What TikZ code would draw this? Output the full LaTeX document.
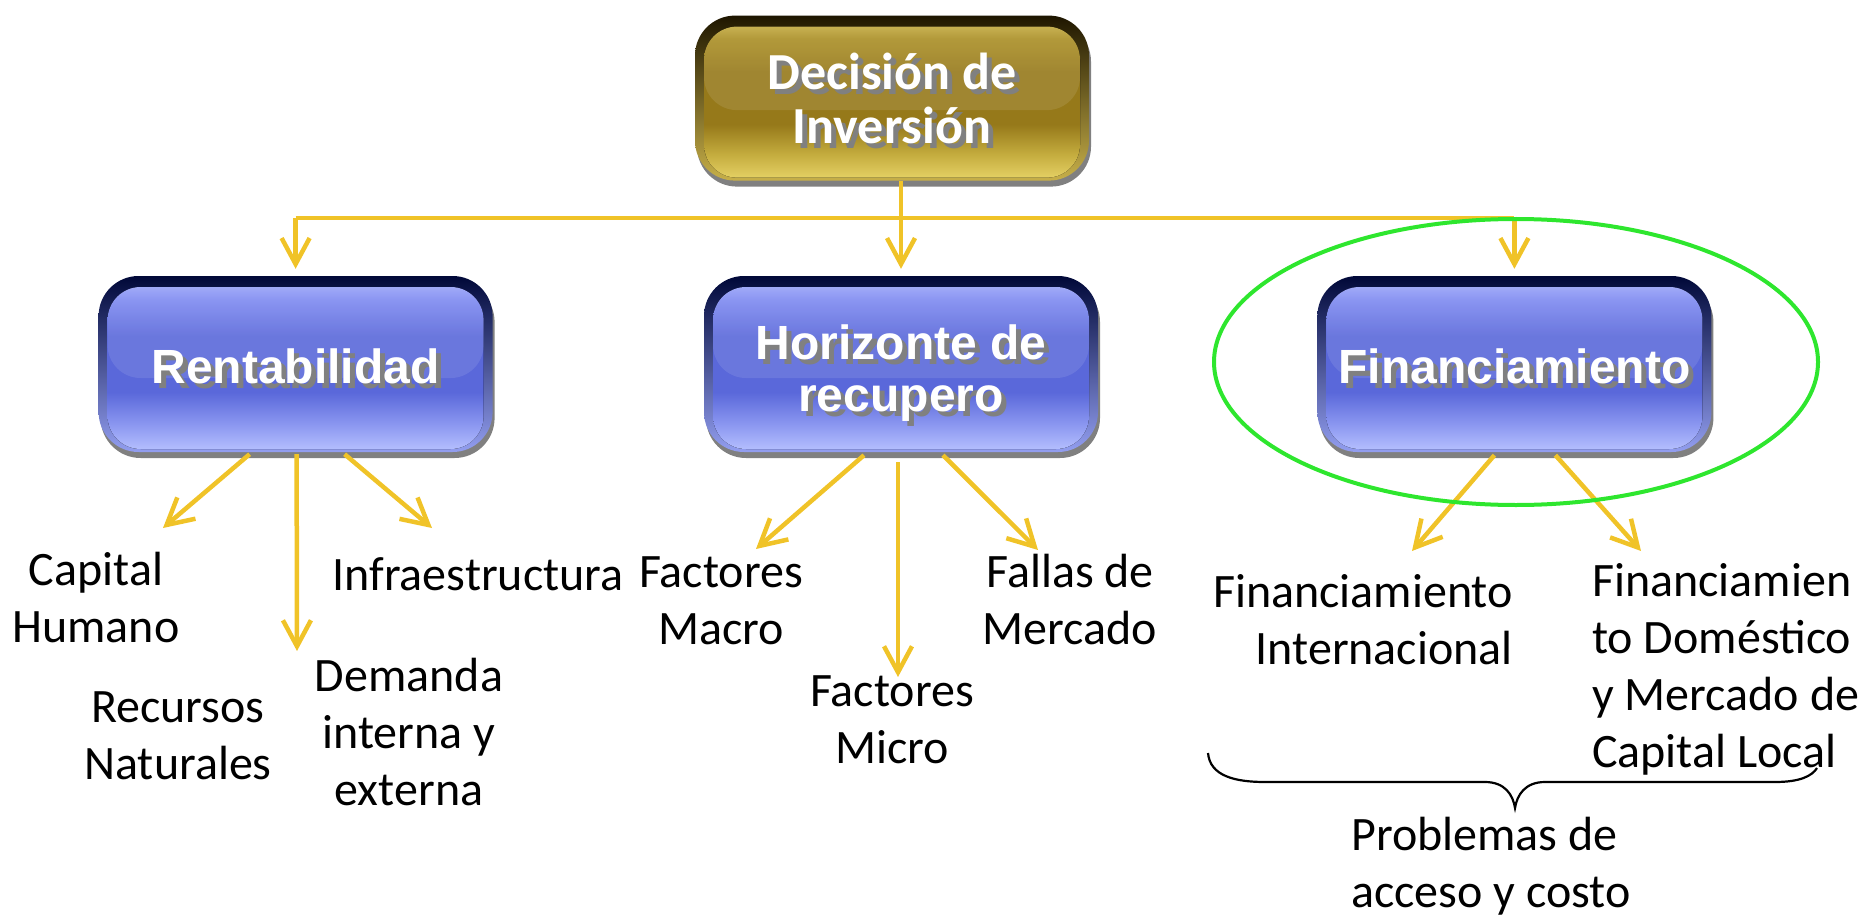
\documentclass[tikz,border=0pt]{standalone}
\usepackage{fontspec}
\setmainfont{Carlito}
\newfontfamily\boxfont{Liberation Sans}
\usetikzlibrary{arrows.meta,positioning,shadows}
\definecolor{linkyellow}{HTML}{F0C328}
\definecolor{ringgreen}{HTML}{2EE62E}
\definecolor{bluerim}{HTML}{000838}
\definecolor{bluetop}{HTML}{AAB4FF}
\definecolor{bluehi}{HTML}{7C88F0}
\definecolor{bluemid}{HTML}{5A68DA}
\definecolor{bluelo}{HTML}{8A96F0}
\definecolor{bluebot}{HTML}{B8C2FF}
\definecolor{goldrim}{HTML}{1E1600}
\definecolor{goldtop}{HTML}{D6C056}
\definecolor{goldhi}{HTML}{AA8E24}
\definecolor{goldmid}{HTML}{96791A}
\definecolor{goldlo}{HTML}{C4AC3E}
\definecolor{goldbot}{HTML}{E8D468}
\pgfdeclareverticalshading{bluegloss}{100bp}{color(0bp)=(bluebot); color(25bp)=(bluebot); color(33bp)=(bluelo);
    color(42bp)=(bluemid); color(58bp)=(bluemid); color(68bp)=(bluehi); color(75bp)=(bluetop); color(100bp)=(bluetop)}
\pgfdeclareverticalshading{goldgloss}{100bp}{color(0bp)=(goldbot); color(25bp)=(goldbot); color(33bp)=(goldlo);
    color(42bp)=(goldmid); color(58bp)=(goldmid); color(68bp)=(goldhi); color(75bp)=(goldtop); color(100bp)=(goldtop)}
\newcommand\shadowtext[2][-12pt]{\raisebox{#1}[\height][\depth]{\rlap{\kern5pt\raisebox{-5pt}{\color{black!50}\begin{tabular}{@{}c@{}}#2\end{tabular}}}\begin{tabular}{@{}c@{}}#2\end{tabular}}}

\begin{document}
\begin{tikzpicture}[x=1pt,y=-1pt,
    boxbase/.style={rectangle,rounded corners=40pt,minimum width=394pt,inner sep=0pt,text=white,
        drop shadow={shadow xshift=2pt,shadow yshift=-6pt,fill=black!50,opacity=1}},
    bluebox/.style={boxbase,minimum height=176pt,top color=bluerim,bottom color=bluebot!60!bluemid,
        font=\boxfont\bfseries\fontsize{48}{52}\selectfont,
        path picture={
            \fill[rounded corners=33pt,shading=bluegloss]
                ([shift={(9pt,-11pt)}]path picture bounding box.north west) rectangle ([shift={(-9pt,3pt)}]path picture bounding box.south east);
            \fill[white,opacity=.1,rounded corners=33pt]
                ([shift={(9pt,-11pt)}]path picture bounding box.north west) rectangle ([shift={(-9pt,-14pt)}]path picture bounding box.east);}},
    goldbox/.style={boxbase,minimum height=165pt,top color=goldrim,bottom color=goldbot!60!goldmid,
        font=\bfseries\fontsize{52}{54}\selectfont,
        path picture={
            \fill[rounded corners=33pt,shading=goldgloss]
                ([shift={(9pt,-11pt)}]path picture bounding box.north west) rectangle ([shift={(-9pt,3pt)}]path picture bounding box.south east);
            \fill[white,opacity=.1,rounded corners=33pt]
                ([shift={(9pt,-11pt)}]path picture bounding box.north west) rectangle ([shift={(-9pt,-12pt)}]path picture bounding box.east);}},
    leaf/.style={font=\fontsize{48}{57}\selectfont,align=center,inner sep=0pt},
    link/.style={draw=linkyellow,line width=4.5pt},
    >={Straight Barb[length=26pt,width=28pt]}]
    \useasboundingbox (0,0) rectangle (1862,917);
    \node(hor)[bluebox] at (901,364) {\shadowtext[-14pt]{Horizonte de\\recupero}};
    \node(rent)[bluebox,left=211pt of hor] {\shadowtext{Rentabilidad}};
    \node(fin)[bluebox,right=219pt of hor] {\shadowtext{Financiamiento}};
    \node(dec)[goldbox,above=95pt of hor,xshift=-9pt] {\shadowtext[-10pt]{Decisión de\\Inversión}};
    \node(cap)[leaf,anchor=base] at (96,642) {Capital\\Humano};
    \node(rec)[leaf,anchor=base] at (178,779) {Recursos\\Naturales};
    \node(inf)[leaf,anchor=base] at (478,590) {Infraestructura};
    \node(dem)[leaf,anchor=base] at (409,805) {Demanda\\interna y\\externa};
    \node(mac)[leaf,anchor=base] at (721,644) {Factores\\Macro};
    \node(mic)[leaf,anchor=base] at (892,763) {Factores\\Micro};
    \node(fal)[leaf,anchor=base] at (1070,644) {Fallas de\\Mercado};
    \node(int)[leaf,anchor=base east,align=right] at (1513,664) {Financiamiento\\Internacional};
    \node(dom)[leaf,anchor=base west,align=left] at (1592,767) {Financiamien\\to Doméstico\\y Mercado de\\Capital Local};
    \node(acc)[leaf,anchor=base west,align=left] at (1351,907) {Problemas de\\acceso y costo};
    \coordinate(bus) at (0,218);
    \coordinate(capin) at (163,528);
    \coordinate(demin) at (297,651);
    \coordinate(infin) at (432,528);
    \coordinate(macin) at (756,549);
    \coordinate(micin) at (898,677);
    \coordinate(falin) at (1038,550);
    \coordinate(intin) at (1412,551);
    \coordinate(domin) at (1641,551);
    \draw[link] (rent.north |- bus) -- (fin.north |- bus);
    \draw[link,->] (dec.south -| hor) -- ([yshift=7pt]hor.north);
    \draw[link,->] (rent.north |- bus) -- ([yshift=7pt]rent.north);
    \draw[link,->] (fin.north |- bus) -- ([yshift=7pt]fin.north);
    \draw[link,->] ([xshift=-46pt,yshift=-2pt]rent.south) -- (capin);
    \draw[link,->] ([xshift=1pt,yshift=-2pt]rent.south) -- (demin);
    \draw[link,->] ([xshift=49pt,yshift=-2pt]rent.south) -- (infin);
    \draw[link,->] ([xshift=-37pt,yshift=-3pt]hor.south) -- (macin);
    \draw[link,->] ([xshift=-3pt,yshift=-10pt]hor.south) -- (micin);
    \draw[link,->] ([xshift=42pt,yshift=-3pt]hor.south) -- (falin);
    \draw[link,->] ([xshift=-20pt,yshift=-3pt]fin.south) -- (intin);
    \draw[link,->] ([xshift=41pt,yshift=-3pt]fin.south) -- (domin);
    \draw[ringgreen,line width=4pt] (1516,362) ellipse [x radius=302,y radius=143];
    \draw[line width=2.2pt] (1208,753) .. controls (1210,776) and (1235,782) .. (1265,782) -- (1485,782)
        .. controls (1505,782) and (1513,795) .. (1515,808) .. controls (1517,795) and (1525,782) .. (1545,782)
        -- (1775,782) .. controls (1800,782) and (1812,776) .. (1817,768);
\end{tikzpicture}
\end{document}
